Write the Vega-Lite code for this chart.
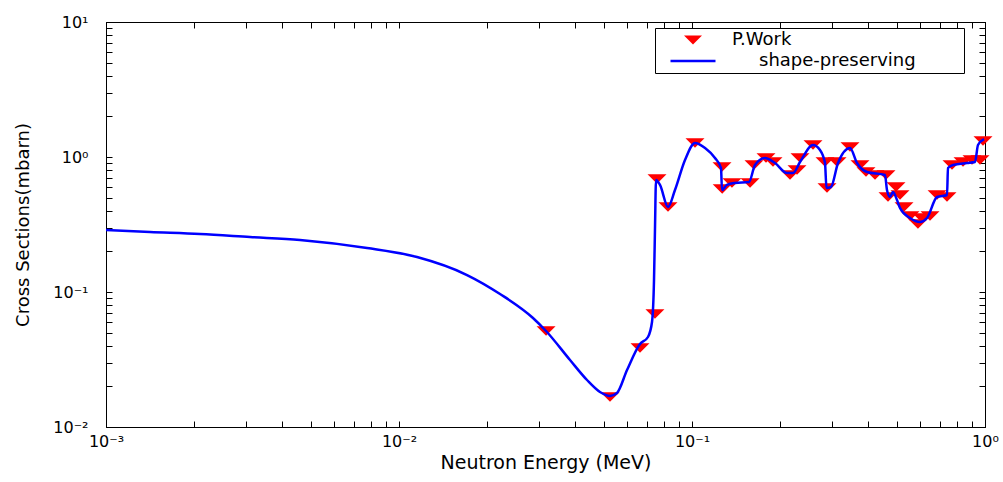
{
  "$schema": "https://vega.github.io/schema/vega-lite/v6.json",
  "width": 879,
  "height": 405,
  "autosize": "none",
  "padding": {"left": 106, "top": 22, "right": 18, "bottom": 55},
  "background": "white",
  "config": {
    "view": {"stroke": "black", "strokeWidth": 1},
    "font": "DejaVu Sans",
    "axis": {"grid": false, "domainColor": "black", "tickColor": "black", "labelColor": "black", "titleColor": "black", "labelFont": "DejaVu Sans", "titleFont": "DejaVu Sans", "titleFontWeight": "normal"}
  },
  "datasets": {
    "markers": [
      {"energy": 0.03176, "xs": 0.05142, "series": "P.Work"},
      {"energy": 0.0525, "xs": 0.01668, "series": "P.Work"},
      {"energy": 0.06645, "xs": 0.03847, "series": "P.Work"},
      {"energy": 0.07475, "xs": 0.06871, "series": "P.Work"},
      {"energy": 0.07594, "xs": 0.6871, "series": "P.Work"},
      {"energy": 0.08281, "xs": 0.4263, "series": "P.Work"},
      {"energy": 0.1024, "xs": 1.27, "series": "P.Work"},
      {"energy": 0.1266, "xs": 0.843, "series": "P.Work"},
      {"energy": 0.1268, "xs": 0.5794, "series": "P.Work"},
      {"energy": 0.1369, "xs": 0.6419, "series": "P.Work"},
      {"energy": 0.1578, "xs": 0.6419, "series": "P.Work"},
      {"energy": 0.1628, "xs": 0.8723, "series": "P.Work"},
      {"energy": 0.1789, "xs": 0.983, "series": "P.Work"},
      {"energy": 0.189, "xs": 0.918, "series": "P.Work"},
      {"energy": 0.216, "xs": 0.7356, "series": "P.Work"},
      {"energy": 0.2282, "xs": 0.8012, "series": "P.Work"},
      {"energy": 0.2337, "xs": 0.983, "series": "P.Work"},
      {"energy": 0.2588, "xs": 1.227, "series": "P.Work"},
      {"energy": 0.2844, "xs": 0.918, "series": "P.Work"},
      {"energy": 0.2889, "xs": 0.5893, "series": "P.Work"},
      {"energy": 0.3126, "xs": 0.918, "series": "P.Work"},
      {"energy": 0.3461, "xs": 1.186, "series": "P.Work"},
      {"energy": 0.3745, "xs": 0.8723, "series": "P.Work"},
      {"energy": 0.3926, "xs": 0.7743, "series": "P.Work"},
      {"energy": 0.4213, "xs": 0.7356, "series": "P.Work"},
      {"energy": 0.4593, "xs": 0.7356, "series": "P.Work"},
      {"energy": 0.4666, "xs": 0.5054, "series": "P.Work"},
      {"energy": 0.4969, "xs": 0.5995, "series": "P.Work"},
      {"energy": 0.5128, "xs": 0.5231, "series": "P.Work"},
      {"energy": 0.5291, "xs": 0.4263, "series": "P.Work"},
      {"energy": 0.5546, "xs": 0.3656, "series": "P.Work"},
      {"energy": 0.5905, "xs": 0.319, "series": "P.Work"},
      {"energy": 0.6095, "xs": 0.3533, "series": "P.Work"},
      {"energy": 0.6492, "xs": 0.3656, "series": "P.Work"},
      {"energy": 0.686, "xs": 0.5231, "series": "P.Work"},
      {"energy": 0.7419, "xs": 0.5054, "series": "P.Work"},
      {"energy": 0.7717, "xs": 0.8723, "series": "P.Work"},
      {"energy": 0.8413, "xs": 0.918, "series": "P.Work"},
      {"energy": 0.9029, "xs": 0.9502, "series": "P.Work"},
      {"energy": 0.9614, "xs": 0.9502, "series": "P.Work"},
      {"energy": 0.9845, "xs": 1.314, "series": "P.Work"}
    ],
    "curve": [
      {"energy": 0.001, "xs": 0.2879, "series": "shape-preserving"},
      {"energy": 0.001413, "xs": 0.2783, "series": "shape-preserving"},
      {"energy": 0.002094, "xs": 0.2689, "series": "shape-preserving"},
      {"energy": 0.0031, "xs": 0.2555, "series": "shape-preserving"},
      {"energy": 0.004593, "xs": 0.2428, "series": "shape-preserving"},
      {"energy": 0.00778, "xs": 0.2118, "series": "shape-preserving"},
      {"energy": 0.01152, "xs": 0.1816, "series": "shape-preserving"},
      {"energy": 0.01707, "xs": 0.1336, "series": "shape-preserving"},
      {"energy": 0.02212, "xs": 0.09665, "series": "shape-preserving"},
      {"energy": 0.02866, "xs": 0.06419, "series": "shape-preserving"},
      {"energy": 0.03176, "xs": 0.05142, "series": "shape-preserving"},
      {"energy": 0.03834, "xs": 0.03135, "series": "shape-preserving"},
      {"energy": 0.04382, "xs": 0.02229, "series": "shape-preserving"},
      {"energy": 0.04853, "xs": 0.01816, "series": "shape-preserving"},
      {"energy": 0.0525, "xs": 0.01697, "series": "shape-preserving"},
      {"energy": 0.05546, "xs": 0.01786, "series": "shape-preserving"},
      {"energy": 0.06002, "xs": 0.02643, "series": "shape-preserving"},
      {"energy": 0.06645, "xs": 0.04119, "series": "shape-preserving"},
      {"energy": 0.07076, "xs": 0.04642, "series": "shape-preserving"},
      {"energy": 0.07303, "xs": 0.05995, "series": "shape-preserving"},
      {"energy": 0.07419, "xs": 0.1227, "series": "shape-preserving"},
      {"energy": 0.07475, "xs": 0.2879, "series": "shape-preserving"},
      {"energy": 0.07537, "xs": 0.6755, "series": "shape-preserving"},
      {"energy": 0.07777, "xs": 0.6204, "series": "shape-preserving"},
      {"energy": 0.08281, "xs": 0.4263, "series": "shape-preserving"},
      {"energy": 0.08748, "xs": 0.5695, "series": "shape-preserving"},
      {"energy": 0.09465, "xs": 0.9501, "series": "shape-preserving"},
      {"energy": 0.1024, "xs": 1.27, "series": "shape-preserving"},
      {"energy": 0.1108, "xs": 1.166, "series": "shape-preserving"},
      {"energy": 0.1198, "xs": 0.9831, "series": "shape-preserving"},
      {"energy": 0.1256, "xs": 0.8288, "series": "shape-preserving"},
      {"energy": 0.1266, "xs": 0.5695, "series": "shape-preserving"},
      {"energy": 0.1316, "xs": 0.6204, "series": "shape-preserving"},
      {"energy": 0.1402, "xs": 0.6419, "series": "shape-preserving"},
      {"energy": 0.1565, "xs": 0.653, "series": "shape-preserving"},
      {"energy": 0.1641, "xs": 0.8723, "series": "shape-preserving"},
      {"energy": 0.1775, "xs": 0.9831, "series": "shape-preserving"},
      {"energy": 0.192, "xs": 0.9027, "series": "shape-preserving"},
      {"energy": 0.211, "xs": 0.7612, "series": "shape-preserving"},
      {"energy": 0.2212, "xs": 0.7612, "series": "shape-preserving"},
      {"energy": 0.2337, "xs": 0.918, "series": "shape-preserving"},
      {"energy": 0.2588, "xs": 1.227, "series": "shape-preserving"},
      {"energy": 0.2734, "xs": 1.127, "series": "shape-preserving"},
      {"energy": 0.2844, "xs": 0.9027, "series": "shape-preserving"},
      {"energy": 0.2877, "xs": 0.5893, "series": "shape-preserving"},
      {"energy": 0.2981, "xs": 0.5995, "series": "shape-preserving"},
      {"energy": 0.315, "xs": 0.9027, "series": "shape-preserving"},
      {"energy": 0.3461, "xs": 1.166, "series": "shape-preserving"},
      {"energy": 0.3657, "xs": 0.9027, "series": "shape-preserving"},
      {"energy": 0.3956, "xs": 0.7743, "series": "shape-preserving"},
      {"energy": 0.4557, "xs": 0.7356, "series": "shape-preserving"},
      {"energy": 0.4629, "xs": 0.5695, "series": "shape-preserving"},
      {"energy": 0.4739, "xs": 0.5055, "series": "shape-preserving"},
      {"energy": 0.4852, "xs": 0.5503, "series": "shape-preserving"},
      {"energy": 0.5008, "xs": 0.4802, "series": "shape-preserving"},
      {"energy": 0.5128, "xs": 0.419, "series": "shape-preserving"},
      {"energy": 0.5546, "xs": 0.3534, "series": "shape-preserving"},
      {"energy": 0.6, "xs": 0.33, "series": "shape-preserving"},
      {"energy": 0.634, "xs": 0.3534, "series": "shape-preserving"},
      {"energy": 0.686, "xs": 0.5055, "series": "shape-preserving"},
      {"energy": 0.7419, "xs": 0.5231, "series": "shape-preserving"},
      {"energy": 0.7477, "xs": 0.8288, "series": "shape-preserving"},
      {"energy": 0.7777, "xs": 0.8723, "series": "shape-preserving"},
      {"energy": 0.8682, "xs": 0.9027, "series": "shape-preserving"},
      {"energy": 0.9244, "xs": 0.918, "series": "shape-preserving"},
      {"energy": 0.9465, "xs": 1.227, "series": "shape-preserving"},
      {"energy": 0.9922, "xs": 1.359, "series": "shape-preserving"}
    ]
  },
  "layer": [
    {
      "data": {"name": "markers"},
      "mark": {"type": "point", "filled": true, "opacity": 1, "size": 361, "strokeWidth": 0},
      "encoding": {
        "x": {
          "field": "energy", "type": "quantitative",
          "scale": {"type": "log", "domain": [0.001, 1], "nice": false},
          "axis": {"orient": "top", "labels": false, "title": null, "tickSize": -6,
            "values": [0.001,0.002,0.003,0.004,0.005,0.006,0.007,0.008,0.009,0.01,0.02,0.03,0.04,0.05,0.06,0.07,0.08,0.09,0.1,0.2,0.3,0.4,0.5,0.6,0.7,0.8,0.9,1]}
        },
        "y": {
          "field": "xs", "type": "quantitative",
          "scale": {"type": "log", "domain": [0.01, 10], "nice": false},
          "axis": {"orient": "right", "labels": false, "title": null, "tickSize": -6,
            "values": [0.01,0.02,0.03,0.04,0.05,0.06,0.07,0.08,0.09,0.1,0.2,0.3,0.4,0.5,0.6,0.7,0.8,0.9,1,2,3,4,5,6,7,8,9,10]}
        },
        "color": {
          "field": "series", "type": "nominal",
          "scale": {"domain": ["P.Work", "shape-preserving"], "range": ["#ff0000", "#0000ff"]},
          "legend": {
            "title": null, "orient": "none", "legendX": 549, "legendY": 6,
            "strokeColor": "black", "fillColor": "white", "padding": 3,
            "symbolSize": 324, "symbolOffset": 26, "labelOffset": 30,
            "labelFont": "DejaVu Sans", "labelFontSize": 18, "labelColor": "black", "rowPadding": 3, "labelLimit": 400,
            "labelExpr": "datum.value == 'P.Work' ? 'P.Work' : '\u200b\u2002\u2002\u2002shape-preserving\u2002\u2002\u2002\u2002\u2002\u200b'",
            "encode": {
              "symbols": {"update": {
                "stroke": {"scale": "color", "field": "value"},
                "strokeWidth": {"signal": "datum.value == 'P.Work' ? 0 : 2.5"},
                "opacity": {"value": 1}
              }}
            }
          }
        },
        "shape": {
          "field": "series", "type": "nominal",
          "scale": {"domain": ["P.Work", "shape-preserving"], "range": ["M-1,-0.5L1,-0.5L0,0.5Z", "M-2.5,0L2.5,0"]},
          "legend": {
            "title": null, "orient": "none", "legendX": 549, "legendY": 6,
            "strokeColor": "black", "fillColor": "white", "padding": 3,
            "symbolSize": 324, "symbolOffset": 26, "labelOffset": 30,
            "labelFont": "DejaVu Sans", "labelFontSize": 18, "labelColor": "black", "rowPadding": 3, "labelLimit": 400,
            "labelExpr": "datum.value == 'P.Work' ? 'P.Work' : '\u200b\u2002\u2002\u2002shape-preserving\u2002\u2002\u2002\u2002\u2002\u200b'",
            "encode": {
              "symbols": {"update": {
                "stroke": {"scale": "color", "field": "value"},
                "strokeWidth": {"signal": "datum.value == 'P.Work' ? 0 : 2.5"},
                "opacity": {"value": 1}
              }}
            }
          }
        }
      }
    },
    {
      "data": {"name": "curve"},
      "mark": {"type": "line", "strokeWidth": 2.5, "interpolate": "monotone"},
      "encoding": {
        "x": {
          "field": "energy", "type": "quantitative",
          "scale": {"type": "log", "domain": [0.001, 1], "nice": false},
          "axis": {"orient": "bottom", "title": "Neutron Energy (MeV)", "titleFontSize": 19, "titlePadding": 4,
            "labelFontSize": 16, "labelFlush": false, "labelOverlap": false, "tickSize": -6, "labelPadding": 12,
            "values": [0.001,0.002,0.003,0.004,0.005,0.006,0.007,0.008,0.009,0.01,0.02,0.03,0.04,0.05,0.06,0.07,0.08,0.09,0.1,0.2,0.3,0.4,0.5,0.6,0.7,0.8,0.9,1],
            "labelExpr": "datum.value == 0.001 ? '10⁻³' : datum.value == 0.01 ? '10⁻²' : datum.value == 0.1 ? '10⁻¹' : datum.value == 1 ? '10⁰' : ''"}
        },
        "y": {
          "field": "xs", "type": "quantitative",
          "scale": {"type": "log", "domain": [0.01, 10], "nice": false},
          "axis": {"orient": "left", "title": "Cross Sections(mbarn)", "titleFontSize": 18, "titlePadding": 20,
            "labelFontSize": 16, "labelOverlap": false, "labelFlush": false, "tickSize": -6, "labelPadding": 24,
            "values": [0.01,0.02,0.03,0.04,0.05,0.06,0.07,0.08,0.09,0.1,0.2,0.3,0.4,0.5,0.6,0.7,0.8,0.9,1,2,3,4,5,6,7,8,9,10],
            "labelExpr": "datum.value == 10 ? '10¹' : datum.value == 1 ? '10⁰' : datum.value == 0.1 ? '10⁻¹' : datum.value == 0.01 ? '10⁻²' : ''"}
        },
        "color": {
          "field": "series", "type": "nominal",
          "legend": {
            "title": null, "orient": "none", "legendX": 549, "legendY": 6,
            "strokeColor": "black", "fillColor": "white", "padding": 3,
            "symbolSize": 324, "symbolOffset": 26, "labelOffset": 30,
            "labelFont": "DejaVu Sans", "labelFontSize": 18, "labelColor": "black", "rowPadding": 3, "labelLimit": 400,
            "labelExpr": "datum.value == 'P.Work' ? 'P.Work' : '\u200b\u2002\u2002\u2002shape-preserving\u2002\u2002\u2002\u2002\u2002\u200b'",
            "encode": {
              "symbols": {"update": {
                "stroke": {"scale": "color", "field": "value"},
                "strokeWidth": {"signal": "datum.value == 'P.Work' ? 0 : 2.5"},
                "opacity": {"value": 1}
              }}
            }
          }
        }
      }
    }
  ],
  "resolve": {"axis": {"x": "independent", "y": "independent"}}
}
